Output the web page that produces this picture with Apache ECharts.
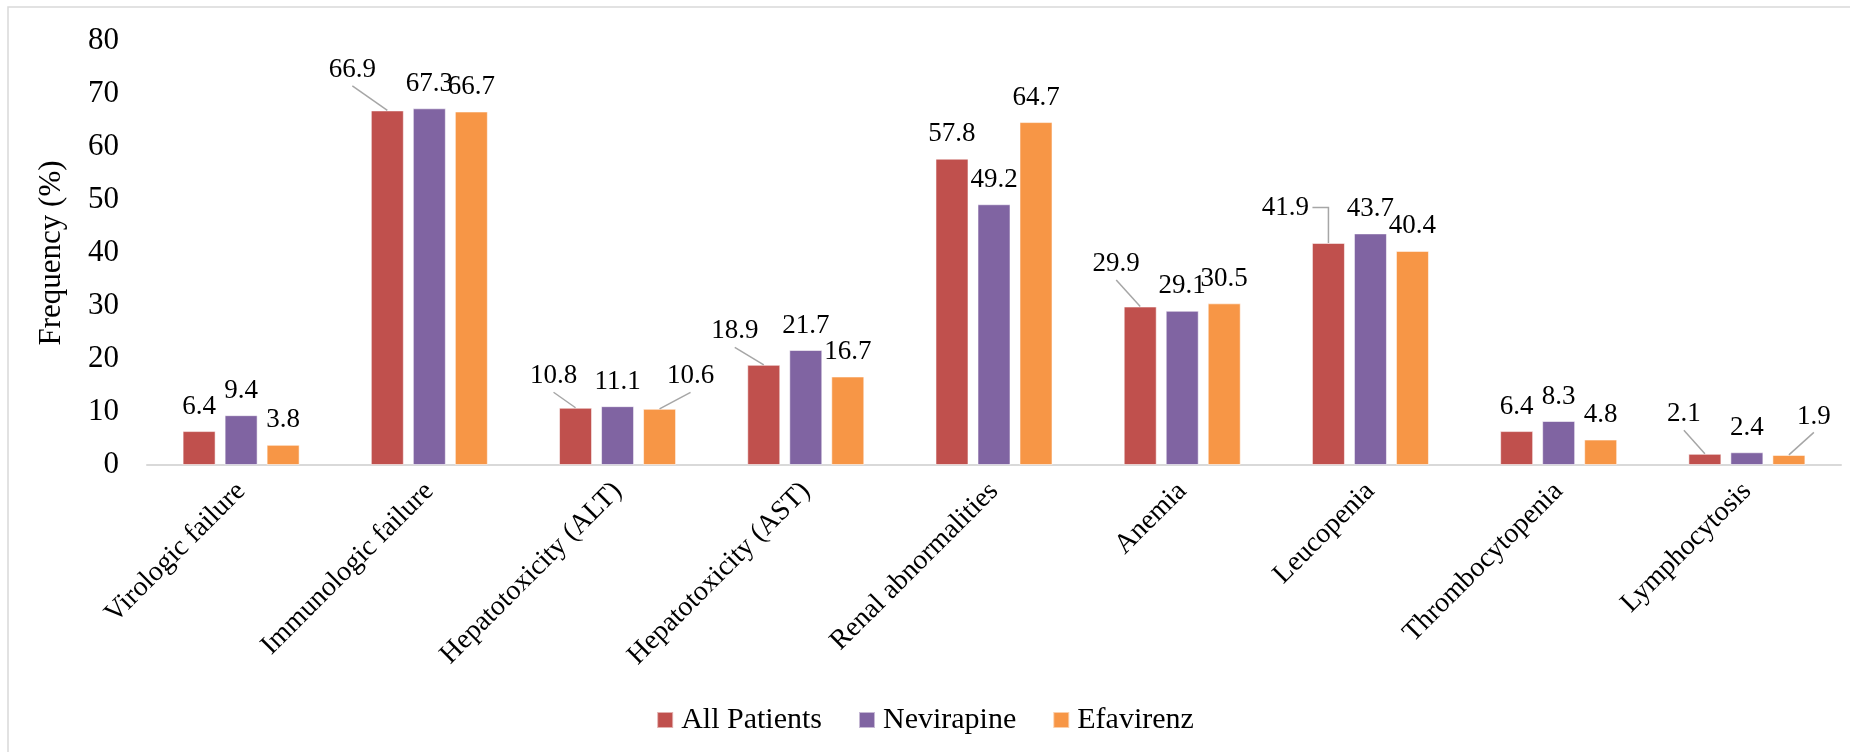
<!DOCTYPE html>
<html>
<head>
<meta charset="utf-8">
<title>Frequency by regimen</title>
<script src="https://cdn.jsdelivr.net/npm/echarts@6/dist/echarts.min.js"></script>
<style>
  html, body { margin: 0; padding: 0; background: #ffffff; }
  #chart { width: 1850px; height: 752px; }
</style>
</head>
<body>
<div id="chart"></div>
<script>
// Outcome categories along the x axis
const categories = [
  'Virologic failure',
  'Immunologic failure',
  'Hepatotoxicity (ALT)',
  'Hepatotoxicity (AST)',
  'Renal abnormalities',
  'Anemia',
  'Leucopenia',
  'Thrombocytopenia',
  'Lymphocytosis'
];

// Frequency (%) per group
const allPatients = [6.4, 66.9, 10.8, 18.9, 57.8, 29.9, 41.9, 6.4, 2.1];
const nevirapine  = [9.4, 67.3, 11.1, 21.7, 49.2, 29.1, 43.7, 8.3, 2.4];
const efavirenz   = [3.8, 66.7, 10.6, 16.7, 64.7, 30.5, 40.4, 4.8, 1.9];

const seriesNames = ['All Patients', 'Nevirapine', 'Efavirenz'];
const yTicks = [0, 10, 20, 30, 40, 50, 60, 70, 80];

// Labels nudged off their bars (seriesIndex -> dataIndex -> [dx, dy, lineShape]);
// a grey guide line links each one back to the top of its bar
const labelShift = {
  0: { 1: [-35, -16], 2: [-22, -7], 3: [-29, -9], 5: [-24, -18], 6: [-43, -11, 'elbow'], 8: [-21, -15] },
  2: { 2: [31, -8], 8: [25, -14] }
};

const colors = ['#C0504D', '#8064A2', '#F79646'];
const FONT = '"Liberation Serif", "Times New Roman", serif';
const BAR_W = 33;
const BAR_GAP = 9;
const LABEL_SIZE = 27;
const LABEL_DIST = 11;
const seriesValues = [allPatients, nevirapine, efavirenz];

function makeSeries(name, values, idx) {
  const shifts = labelShift[idx] || {};
  return {
    name: name,
    type: 'bar',
    data: values,
    barWidth: BAR_W,
    barGap: (BAR_GAP / BAR_W * 100).toFixed(1) + '%',
    itemStyle: { color: colors[idx], borderColor: 'rgba(255,255,255,0.55)', borderWidth: 1 },
    label: {
      show: true,
      position: 'top',
      distance: LABEL_DIST,
      color: '#000000',
      fontFamily: FONT,
      fontSize: LABEL_SIZE,
      formatter: (p) => p.value.toFixed(1)
    },
    labelLayout: function (params) {
      const s = shifts[params.dataIndex];
      return s ? { dx: s[0], dy: s[1] } : {};
    }
  };
}

// Guide lines for the moved labels: [seriesIndex, categoryIndex, value]
const guideData = [];
Object.keys(labelShift).forEach((sKey) => {
  const sIdx = Number(sKey);
  Object.keys(labelShift[sKey]).forEach((iKey) => {
    const i = Number(iKey);
    guideData.push([sIdx, i, seriesValues[sIdx][i]]);
  });
});

const guideSeries = {
  type: 'custom',
  name: 'guides',
  silent: true,
  z: 5,
  data: guideData,
  renderItem: function (params, api) {
    const sIdx = api.value(0);
    const cat = api.value(1);
    const s = labelShift[sIdx][cat];
    const pt = api.coord([cat, api.value(2)]);
    const barX = pt[0] + (sIdx - 1) * (BAR_W + BAR_GAP);
    const barTop = pt[1];
    const lx = barX + s[0];
    const ly = barTop - LABEL_DIST - LABEL_SIZE / 2 + s[1];
    let points;
    if (s[2] === 'elbow') {
      points = [[lx + 27, ly], [barX, ly], [barX, barTop]];
    } else {
      points = [[lx, ly + 16], [barX, barTop]];
    }
    return {
      type: 'polyline',
      shape: { points: points },
      style: { stroke: '#A6A6A6', lineWidth: 1.5, fill: null }
    };
  }
};

const chart = echarts.init(document.getElementById('chart'), null, { renderer: 'canvas' });

chart.setOption({
  backgroundColor: '#ffffff',
  animation: false,
  textStyle: { fontFamily: FONT },
  graphic: [{
    type: 'rect',
    shape: { x: 8, y: 7, width: 1900, height: 800 },
    style: { fill: 'none', stroke: '#D9D9D9', lineWidth: 1.5 },
    silent: true,
    z: -10
  }],
  grid: { left: 147, right: 9, top: 41, bottom: 287 },
  legend: {
    data: seriesNames,
    top: 700,
    left: 'center',
    itemWidth: 16,
    itemHeight: 16,
    itemGap: 36,
    icon: 'rect',
    textStyle: { fontFamily: FONT, fontSize: 30, color: '#000000', padding: [0, 0, 0, 3] }
  },
  xAxis: {
    type: 'category',
    data: categories,
    axisLine: { show: true, lineStyle: { color: '#D9D9D9', width: 2 } },
    axisTick: { show: false },
    axisLabel: {
      rotate: 45,
      interval: 0,
      margin: 22,
      color: '#000000',
      fontFamily: FONT,
      fontSize: 28
    }
  },
  yAxis: {
    type: 'value',
    min: yTicks[0],
    max: yTicks[yTicks.length - 1],
    interval: yTicks[1] - yTicks[0],
    name: 'Frequency (%)',
    nameLocation: 'middle',
    nameRotate: 90,
    nameGap: 80,
    nameTextStyle: { fontFamily: FONT, fontSize: 31, color: '#000000' },
    axisLine: { show: false },
    axisTick: { show: false },
    splitLine: { show: false },
    axisLabel: {
      margin: 28,
      color: '#000000',
      fontFamily: FONT,
      fontSize: 31
    }
  },
  series: [
    makeSeries(seriesNames[0], allPatients, 0),
    makeSeries(seriesNames[1], nevirapine, 1),
    makeSeries(seriesNames[2], efavirenz, 2),
    guideSeries
  ]
});
</script>
</body>
</html>
